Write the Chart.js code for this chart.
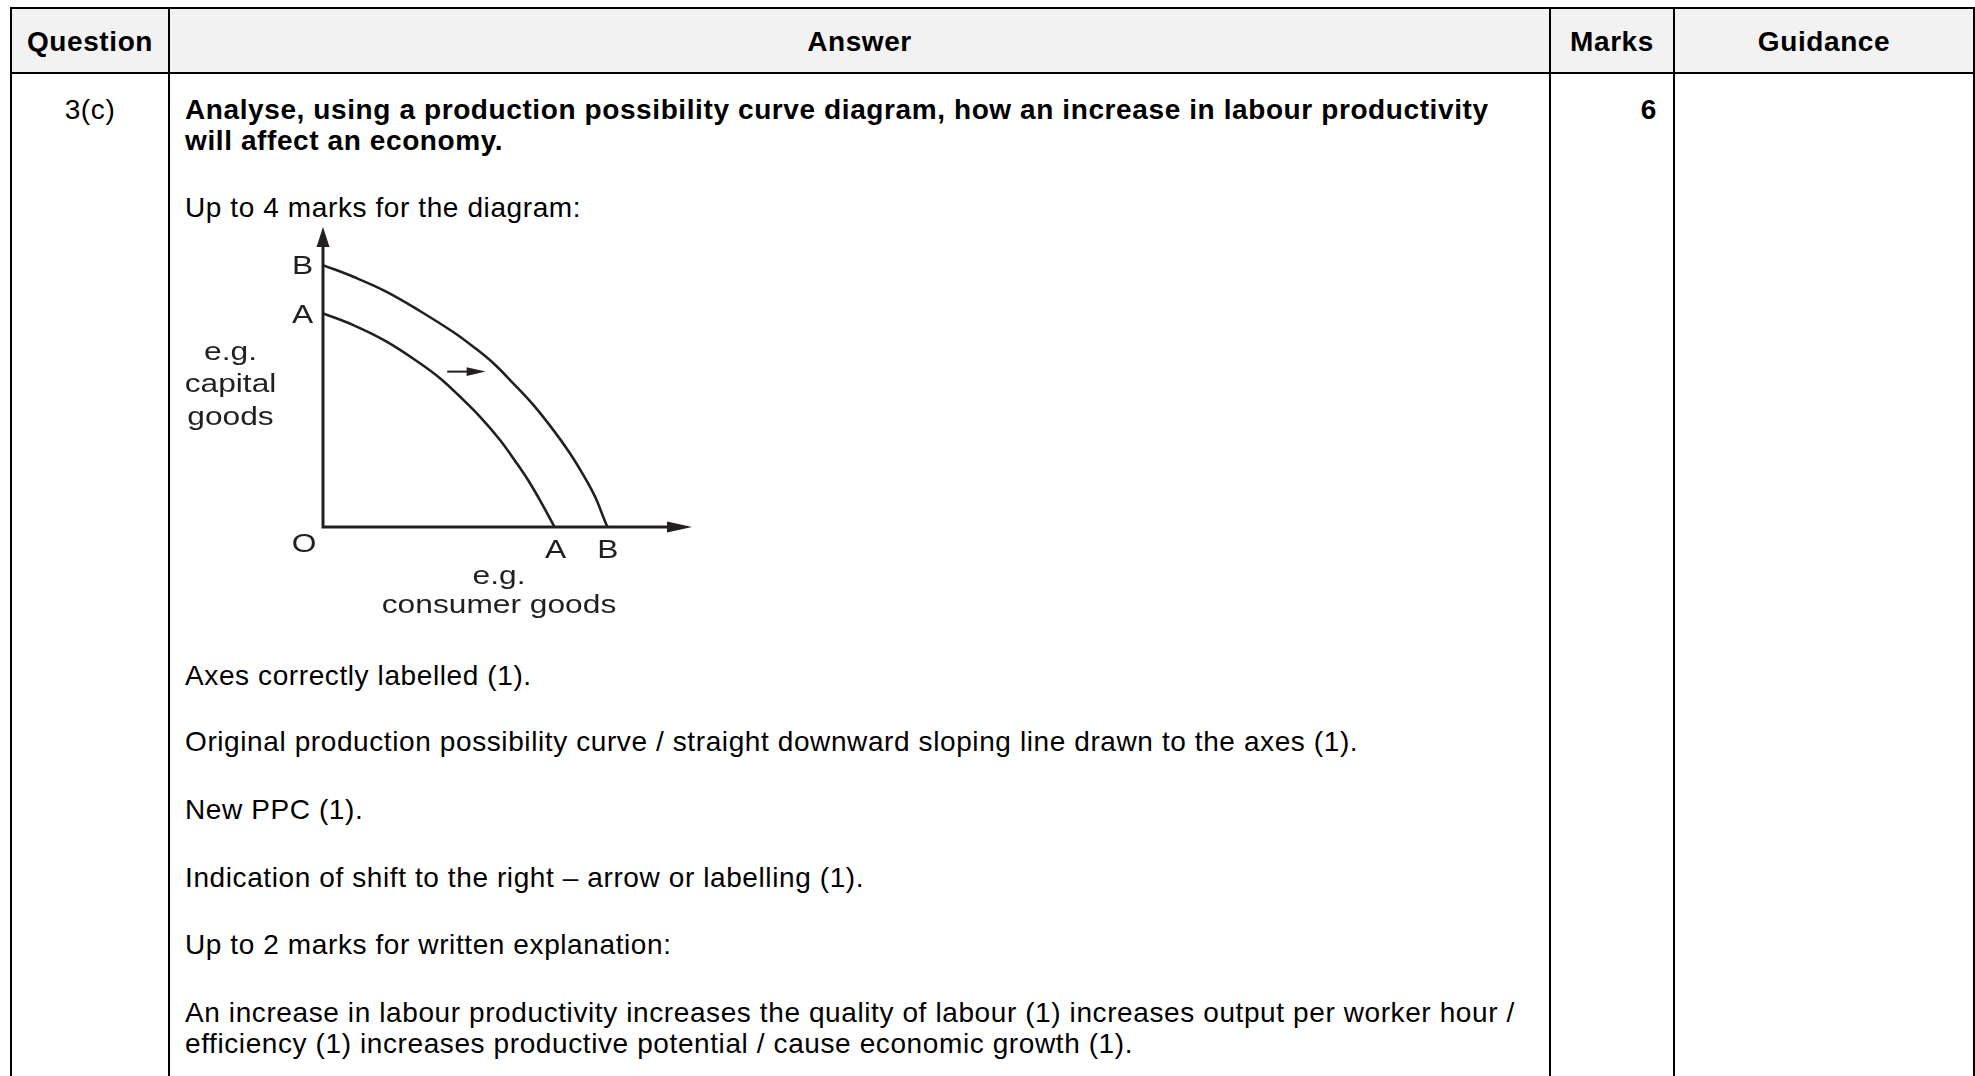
<!DOCTYPE html>
<html>
<head>
<meta charset="utf-8">
<script src="https://cdn.jsdelivr.net/npm/chart.js@4"></script>
<style>
  html, body { margin: 0; padding: 0; background: #fff; }
  body { width: 1975px; height: 1076px; position: relative; overflow: hidden;
         font-family: "Liberation Sans", Arial, sans-serif; color: #000; }
  .ln { position: absolute; background: #000; }
  .t { position: absolute; font-size: 28px; line-height: 32px; letter-spacing: 0.6px; white-space: nowrap; }
  .c { text-align: center; }
  .b { font-weight: bold; }
  #hdr { position: absolute; left: 12px; top: 9px; width: 1961px; height: 63px; background: #f2f2f2; }
  #ppc { position: absolute; left: 170px; top: 200px; }
</style>
</head>
<body>

<div id="hdr"></div>
<!-- table rules -->
<div class="ln" style="left:10px; top:7px; width:1965px; height:2px"></div>
<div class="ln" style="left:10px; top:72px; width:1965px; height:2px"></div>
<div class="ln" style="left:10px; top:7px; width:2px; height:1069px"></div>
<div class="ln" style="left:168px; top:7px; width:2px; height:1069px"></div>
<div class="ln" style="left:1549px; top:7px; width:2px; height:1069px"></div>
<div class="ln" style="left:1673px; top:7px; width:2px; height:1069px"></div>
<div class="ln" style="left:1973px; top:7px; width:2px; height:1069px"></div>

<!-- header -->
<div class="t b c" style="left:12px; width:156px; top:26px">Question</div>
<div class="t b c" style="left:170px; width:1379px; top:26px">Answer</div>
<div class="t b c" style="left:1551px; width:122px; top:26px">Marks</div>
<div class="t b c" style="left:1675px; width:298px; top:26px">Guidance</div>

<!-- row -->
<div class="t c" style="left:12px; width:156px; top:94px">3(c)</div>
<div class="t b" style="right:318px; top:94px">6</div>

<div class="t b" style="left:185px; top:94px">Analyse, using a production possibility curve diagram, how an increase in labour productivity</div>
<div class="t b" style="left:185px; top:125px">will affect an economy.</div>
<div class="t" style="left:185px; top:192px">Up to 4 marks for the diagram:</div>

<canvas id="ppc" width="560" height="430"></canvas>

<div class="t" style="left:185px; top:660px">Axes correctly labelled (1).</div>
<div class="t" style="left:185px; top:726px">Original production possibility curve / straight downward sloping line drawn to the axes (1).</div>
<div class="t" style="left:185px; top:794px">New PPC (1).</div>
<div class="t" style="left:185px; top:862px">Indication of shift to the right – arrow or labelling (1).</div>
<div class="t" style="left:185px; top:929px">Up to 2 marks for written explanation:</div>
<div class="t" style="left:185px; top:997px">An increase in labour productivity increases the quality of labour (1) increases output per worker hour /</div>
<div class="t" style="left:185px; top:1028px">efficiency (1) increases productive potential / cause economic growth (1).</div>

<script>
// original PPC (A) and new PPC (B)
const curveAX = [0, 10.1, 21.2, 32.3, 39, 45.7, 52.3, 59, 64.6, 69, 72.9, 77.2];
const curveAY = [71.2, 67.3, 61.8, 54.6, 49.6, 43.4, 36.8, 29, 21.2, 14.6, 7.9, 0];
const curveBX = [0, 10.1, 21.2, 32.3, 43.4, 50.1, 56.8, 63.4, 70.1, 76.8, 82.3, 86.8, 90.7, 93.4, 94.8];
const curveBY = [87.3, 83.4, 78.4, 72.0, 65.0, 60.1, 54.6, 47.9, 40.7, 32.3, 24.6, 17.3, 10.1, 3.4, 0];
// shift arrow between the curves
const shiftX = [41.4, 54.2];
const shiftY = [51.8, 51.8];
// axis extent (arrow tips)
const axisMaxX = 123;
const axisMaxY = 100;
const originLabel = 'O';
const curveNames = ['A', 'B'];
const xTitle = ['e.g.', 'consumer goods'];
const yTitle = ['e.g.', 'capital', 'goods'];

const ink = '#231f20';
const toPoints = (xs, ys) => xs.map((v, i) => ({ x: v, y: ys[i] }));

function arrowHead(ctx, tx, ty, dx, dy, len, half) {
  const bx = tx - dx * len, by = ty - dy * len;
  ctx.beginPath();
  ctx.moveTo(tx, ty);
  ctx.lineTo(bx - dy * half, by + dx * half);
  ctx.lineTo(bx + dy * half, by - dx * half);
  ctx.closePath();
  ctx.fill();
}

function label(ctx, str, cx, baseline) {
  ctx.save();
  ctx.translate(cx, baseline);
  ctx.scale(1.22, 1);
  ctx.fillText(str, 0, 0);
  ctx.restore();
}

const ppcDecor = {
  id: 'ppcDecor',
  afterDatasetsDraw(chart) {
    const { ctx, scales: { x, y } } = chart;
    const ox = x.getPixelForValue(0), oy = y.getPixelForValue(0);
    const xe = x.getPixelForValue(axisMaxX), ye = y.getPixelForValue(axisMaxY);
    ctx.save();
    ctx.strokeStyle = ink;
    ctx.fillStyle = ink;

    // axes
    ctx.lineWidth = 3;
    ctx.lineJoin = 'miter';
    ctx.beginPath();
    ctx.moveTo(ox, ye + 16);
    ctx.lineTo(ox, oy);
    ctx.lineTo(xe - 20, oy);
    ctx.stroke();
    arrowHead(ctx, ox, ye, 0, -1, 20, 6.5);
    arrowHead(ctx, xe, oy, 1, 0, 25, 5.5);

    // shift arrow
    const sx0 = x.getPixelForValue(shiftX[0]), sx1 = x.getPixelForValue(shiftX[1]);
    const sy = y.getPixelForValue(shiftY[0]);
    ctx.lineWidth = 2;
    ctx.beginPath();
    ctx.moveTo(sx0, sy);
    ctx.lineTo(sx1 - 12, sy);
    ctx.stroke();
    arrowHead(ctx, sx1, sy, 1, 0, 19, 4.3);

    // labels
    ctx.font = '26px "Liberation Sans", Arial, sans-serif';
    ctx.textAlign = 'center';
    ctx.textBaseline = 'alphabetic';
    label(ctx, curveNames[0], ox - 20.5, y.getPixelForValue(curveAY[0]) + 9.3);
    label(ctx, curveNames[1], ox - 20.5, y.getPixelForValue(curveBY[0]) + 8.5);
    label(ctx, curveNames[0], x.getPixelForValue(curveAX[curveAX.length - 1]) + 1, oy + 31);
    label(ctx, curveNames[1], x.getPixelForValue(curveBX[curveBX.length - 1]) + 0.5, oy + 31);
    label(ctx, originLabel, ox - 19, oy + 25);
    label(ctx, xTitle[0], ox + 176, oy + 57);
    label(ctx, xTitle[1], ox + 176, oy + 86);
    label(ctx, yTitle[0], ox - 92.5, oy - 167);
    label(ctx, yTitle[1], ox - 92.5, oy - 135);
    label(ctx, yTitle[2], ox - 92.5, oy - 102);
    ctx.restore();
  }
};

const curveStyle = {
  showLine: true,
  borderColor: ink,
  borderWidth: 2.6,
  pointRadius: 0,
  tension: 0.4,
  clip: false
};

new Chart(document.getElementById('ppc'), {
  type: 'scatter',
  data: {
    datasets: [
      { label: 'A', data: toPoints(curveAX, curveAY), ...curveStyle },
      { label: 'B', data: toPoints(curveBX, curveBY), ...curveStyle }
    ]
  },
  options: {
    responsive: false,
    animation: false,
    events: [],
    layout: { padding: { left: 153, top: 27, right: 38, bottom: 103 } },
    plugins: { legend: { display: false }, tooltip: { enabled: false } },
    scales: {
      x: { type: 'linear', min: 0, max: axisMaxX, display: false },
      y: { type: 'linear', min: 0, max: axisMaxY, display: false }
    }
  },
  plugins: [ppcDecor]
});
</script>
</body>
</html>
